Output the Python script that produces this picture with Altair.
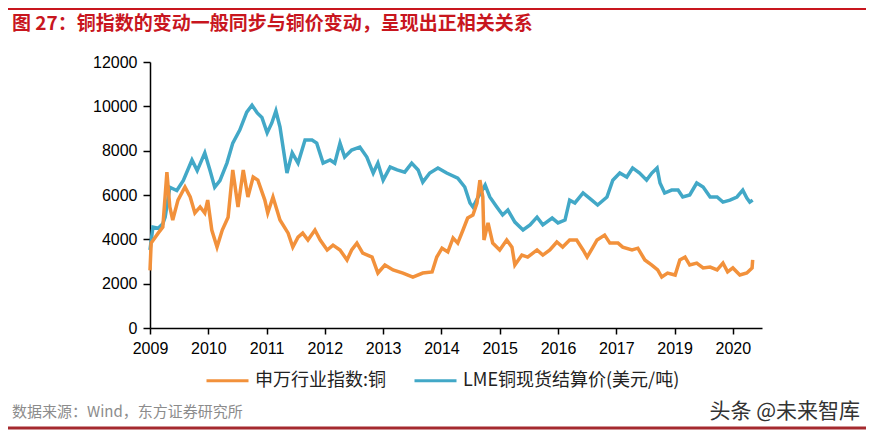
import altair as alt
import pandas as pd

# ---- data ----
year_labels = ["2009", "2010", "2011", "2012", "2013", "2014", "2015",
               "2016", "2017", "2019", "2020"]

series_names = ["申万行业指数:铜", "LME铜现货结算价(美元/吨)"]

# LME copper spot price (x in category-axis units, 0 = first label)
lme_t = [0.00, 0.05, 0.14, 0.22, 0.26, 0.34, 0.46, 0.57, 0.72, 0.81, 0.94, 1.03,
         1.11, 1.20, 1.32, 1.42, 1.54, 1.66, 1.75, 1.84, 1.92, 2.01, 2.09, 2.16,
         2.23, 2.35, 2.44, 2.54, 2.66, 2.78, 2.86, 2.97, 3.09, 3.17, 3.26, 3.34,
         3.46, 3.60, 3.72, 3.83, 3.91, 4.00, 4.12, 4.24, 4.37, 4.49, 4.60, 4.68,
         4.80, 4.94, 5.09, 5.28, 5.40, 5.49, 5.54, 5.63, 5.75, 5.83, 5.95, 6.05,
         6.14, 6.26, 6.40, 6.52, 6.64, 6.74, 6.90, 7.00, 7.12, 7.20, 7.29, 7.43,
         7.58, 7.68, 7.84, 7.94, 8.06, 8.18, 8.28, 8.40, 8.52, 8.61, 8.70, 8.75,
         8.83, 8.95, 9.06, 9.14, 9.26, 9.38, 9.49, 9.61, 9.73, 9.83, 9.95, 10.07,
         10.17, 10.24, 10.29, 10.34]
lme_v = [3520, 4550, 4500, 4700, 5000, 6350, 6200, 6650, 7580, 7100, 7900, 7100,
         6350, 6650, 7440, 8340, 8930, 9740, 10050, 9700, 9500, 8800, 9250, 9790,
         9070, 6990, 7900, 7440, 8480, 8480, 8340, 7440, 7580, 7440, 8340, 7710,
         8030, 8160, 7710, 6990, 7440, 6670, 7260, 7130, 7030, 7440, 7130, 6580,
         6990, 7220, 6990, 6760, 6360, 5640, 5460, 5910, 6450, 5910, 5460, 5100,
         5320, 4780, 4420, 4650, 5000, 4650, 4960, 4740, 4870, 5770, 5640, 6090,
         5770, 5550, 5910, 6670, 6990, 6810, 7220, 6990, 6670, 6990, 7220, 6540,
         6090, 6220, 6220, 5910, 6000, 6540, 6360, 5910, 5910, 5680, 5770, 5910,
         6220, 5860, 5680, 5770]

# SW copper industry index
sw_t = [0.00, 0.02, 0.14, 0.22, 0.29, 0.34, 0.39, 0.48, 0.60, 0.69, 0.77, 0.86,
        0.94, 0.99, 1.06, 1.15, 1.24, 1.34, 1.42, 1.51, 1.60, 1.68, 1.77, 1.85,
        1.97, 2.02, 2.11, 2.23, 2.37, 2.45, 2.54, 2.62, 2.71, 2.83, 2.92, 3.04,
        3.14, 3.26, 3.38, 3.46, 3.55, 3.65, 3.81, 3.91, 4.03, 4.17, 4.34, 4.51,
        4.68, 4.84, 4.92, 5.01, 5.11, 5.20, 5.28, 5.37, 5.45, 5.54, 5.61, 5.66,
        5.71, 5.73, 5.80, 5.88, 6.00, 6.12, 6.21, 6.26, 6.38, 6.48, 6.64, 6.74,
        6.86, 6.98, 7.08, 7.20, 7.32, 7.43, 7.50, 7.60, 7.67, 7.80, 7.89, 8.03,
        8.11, 8.27, 8.37, 8.49, 8.61, 8.71, 8.78, 8.88, 9.01, 9.09, 9.18, 9.26,
        9.38, 9.49, 9.61, 9.73, 9.83, 9.91, 10.00, 10.12, 10.24, 10.33, 10.34]
sw_v = [2600, 3830, 4280, 4550, 7030, 5460, 4870, 5770, 6360, 5910, 5190, 5460,
        5190, 5770, 4420, 3650, 4420, 5000, 7130, 5460, 7130, 5910, 6810, 6670,
        5770, 5190, 5910, 4870, 4280, 3650, 4100, 4280, 3970, 4420, 3970, 3520,
        3740, 3520, 3070, 3520, 3830, 3380, 3200, 2480, 2840, 2620, 2480, 2300,
        2480, 2530, 3200, 3600, 3430, 4060, 3830, 4420, 4960, 5100, 5640, 6670,
        5910, 3970, 4740, 3830, 3520, 3970, 3650, 2840, 3290, 3200, 3520, 3290,
        3520, 3880, 3650, 3970, 3970, 3520, 3200, 3650, 3970, 4190, 3830, 3830,
        3650, 3520, 3600, 3070, 2840, 2620, 2300, 2480, 2390, 3070, 3200, 2840,
        2930, 2710, 2750, 2620, 2930, 2530, 2710, 2390, 2480, 2710, 3070]

y_ticks = [0, 2000, 4000, 6000, 8000, 10000, 12000]

title_text = "图 27：铜指数的变动一般同步与铜价变动，呈现出正相关关系"
source_text = "数据来源：Wind，东方证券研究所"
mark_text = "头条 @未来智库"

# ---- build table ----
df = pd.concat([
    pd.DataFrame({"t": sw_t, "v": sw_v, "s": series_names[0]}),
    pd.DataFrame({"t": lme_t, "v": lme_v, "s": series_names[1]}),
], ignore_index=True)

label_expr = "[" + ",".join("'%s'" % y for y in year_labels) + "][datum.value]"

ORANGE = "#F2913B"
BLUE = "#42A8C7"
color_scale = alt.Scale(domain=series_names, range=[ORANGE, BLUE])

base = alt.Chart(df).encode(
    x=alt.X("t:Q",
            scale=alt.Scale(domain=[0, 10.5], nice=False, zero=False),
            axis=alt.Axis(values=list(range(len(year_labels))), labelExpr=label_expr,
                          title=None, tickSize=6, labelPadding=6, labelFlush=False,
                          labelOverlap=False)),
    y=alt.Y("v:Q",
            scale=alt.Scale(domain=[0, 12000], nice=False),
            axis=alt.Axis(values=y_ticks, format="d", title=None, tickSize=7,
                          labelPadding=6)),
    color=alt.Color("s:N", scale=color_scale, sort=series_names,
                    legend=alt.Legend(title=None, orient="none", legendX=55, legendY=296,
                                      direction="horizontal", symbolType="stroke",
                                      symbolSize=1764, symbolStrokeWidth=3,
                                      labelFontSize=18, labelFont="Noto Sans CJK SC",
                                      labelColor="#222222", columnPadding=21,
                                      labelOffset=5, labelLimit=400)),
)

lme_line = base.mark_line(strokeWidth=3.5).transform_filter(alt.datum.s == series_names[1])
sw_line = base.mark_line(strokeWidth=3.5).transform_filter(alt.datum.s == series_names[0])

one = pd.DataFrame({"txt": [title_text], "src": [source_text], "wm": [mark_text]})

title_layer = alt.Chart(one).mark_text(
    align="left", baseline="middle", fontSize=19, fontWeight="bold",
    font="Noto Sans CJK SC", color="#C8161E"
).encode(text="txt:N", x=alt.value(-138), y=alt.value(-38))

source_layer = alt.Chart(one).mark_text(
    align="left", baseline="middle", fontSize=15, font="Noto Sans CJK SC", color="#8C8C8C"
).encode(text="src:N", x=alt.value(-138), y=alt.value(350))

wm_layer = alt.Chart(one).mark_text(
    align="right", baseline="middle", fontSize=21, font="Noto Sans CJK SC", color="#333333"
).encode(text="wm:N", x=alt.value(710), y=alt.value(350))

top_rule = alt.Chart(one).mark_rule(color="#C8161E", strokeWidth=2).encode(
    x=alt.value(-142), x2=alt.value(716), y=alt.value(-53))
bottom_rule = alt.Chart(one).mark_rule(color="#A52A2F", strokeWidth=3).encode(
    x=alt.value(-142), x2=alt.value(716), y=alt.value(366))

chart = alt.layer(
    top_rule, bottom_rule, title_layer, source_layer, wm_layer, lme_line, sw_line
).properties(
    width=612, height=266,
    padding={"left": 142, "top": 54, "right": 104, "bottom": 102},
    autosize=alt.AutoSizeParams(type="none"),
).configure_view(stroke=None).configure_axis(
    grid=False, domainColor="#000000", tickColor="#000000", labelColor="#000000",
    labelFont="Liberation Sans", labelFontSize=16, domainWidth=1.5, tickWidth=1.5,
)

chart.save("out.html", embed_options={"renderer": "svg", "actions": False})
